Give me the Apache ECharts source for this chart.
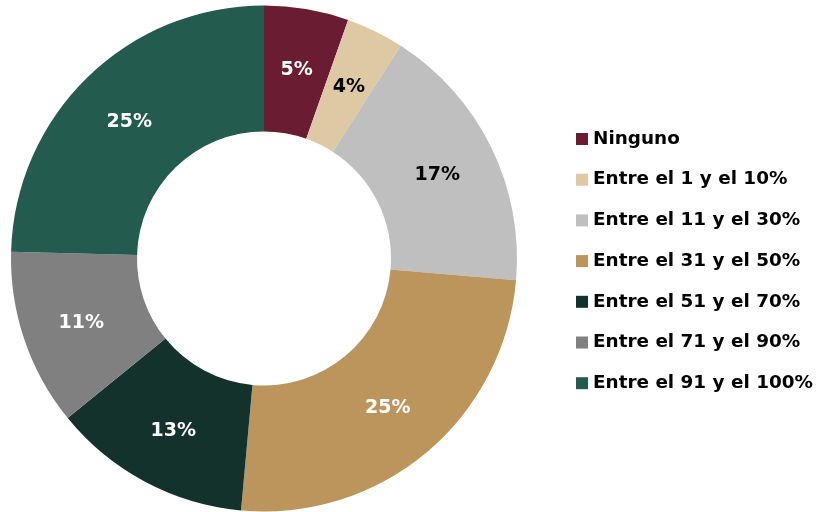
<!DOCTYPE html>
<html><head><meta charset="utf-8">
<script src="https://cdn.jsdelivr.net/npm/echarts@6/dist/echarts.min.js"></script>
<style>html,body{margin:0;padding:0;background:#fff}#c{width:818px;height:512px}</style>
</head><body><div id="c"></div>
<script>
const categories = ['Ninguno','Entre el 1 y el 10%','Entre el 11 y el 30%','Entre el 31 y el 50%','Entre el 51 y el 70%','Entre el 71 y el 90%','Entre el 91 y el 100%'];
const values = [5.4, 3.7, 17.3, 25.1, 12.7, 11.3, 24.6];
const percentLabels = ['5%','4%','17%','25%','13%','11%','25%'];
const colors = ['#691c32','#ddc9a3','#bfbfbf','#bc955c','#13322b','#808080','#235b4e'];
const labelColors = ['#fff','#000','#000','#fff','#fff','#fff','#fff'];
const FONT = '"DejaVu Sans", sans-serif';
const chart = echarts.init(document.getElementById('c'));
chart.setOption({
  animation:false,
  legend:{orient:'vertical',left:571,top:124,itemWidth:12,itemHeight:12,itemGap:20.7,icon:'rect',
    textStyle:{fontFamily:FONT,fontWeight:'bold',fontSize:18.4,color:'#000',lineHeight:20},
    data:categories},
  series:[{type:'pie',center:[264,258.5],radius:[127,253],startAngle:90,clockwise:true,
    label:{position:'inside',fontFamily:FONT,fontWeight:'bold',fontSize:19,offset:[0,2],
      formatter:p=>percentLabels[p.dataIndex]},
    labelLine:{show:false},
    emphasis:{disabled:true},
    data:categories.map((n,i)=>({name:n,value:values[i],itemStyle:{color:colors[i]},label:{color:labelColors[i]}}))
  }]
});
</script></body></html>
